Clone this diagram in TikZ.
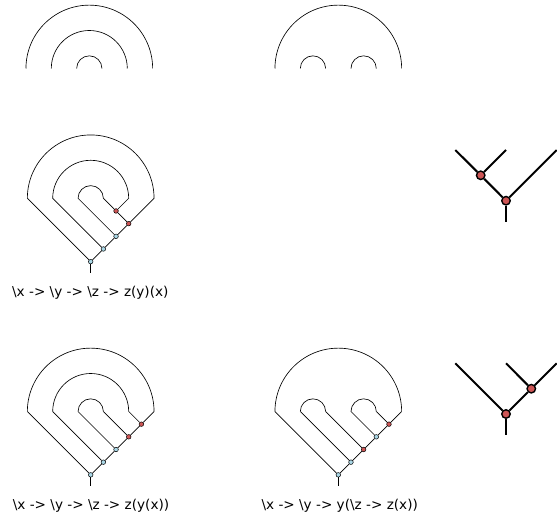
\documentclass[tikz,border=0pt]{standalone}
\usepackage{fontspec}
\setmainfont{DejaVu Sans}
\definecolor{appred}{RGB}{205,85,85}
\definecolor{lamblue}{RGB}{170,215,230}
\tikzset{
  wire/.style={line width=0.65pt, black},
  lam/.style={circle, draw=black, fill=lamblue, inner sep=0pt, minimum size=4.6pt, line width=0.5pt},
  app/.style={circle, draw=black, fill=appred, inner sep=0pt, minimum size=4.6pt, line width=0.5pt},
  treeline/.style={line width=2pt, black},
  tnode/.style={circle, draw=black, fill=appred, inner sep=0pt, minimum size=8.5pt, line width=1.4pt},
  lbl/.style={font=\fontsize{13.6}{16}\selectfont, inner sep=0pt},
  unit/.style={x=12.67pt, y=-12.67pt}
}
\begin{document}
\begin{tikzpicture}[x=1pt,y=-1pt]
\useasboundingbox (0,0) rectangle (557,518);

% ---------- top-left: nested arcs ----------
\begin{scope}[shift={(89.3,68.5)}, unit]
  \coordinate (D-o1) at (-5,0); \coordinate (D-m1) at (-3,0); \coordinate (D-i1) at (-1,0);
  \draw[wire] (D-o1) arc[start angle=180, end angle=0, radius=63.35pt];
  \draw[wire] (D-m1) arc[start angle=180, end angle=0, radius=38pt];
  \draw[wire] (D-i1) arc[start angle=180, end angle=0, radius=12.67pt];
\end{scope}

% ---------- top-middle: big arc with two small arcs ----------
\begin{scope}[shift={(338.3,68.5)}, unit]
  \coordinate (E-o1) at (-5,0); \coordinate (E-s1) at (-3,0); \coordinate (E-s2) at (1,0);
  \draw[wire] (E-o1) arc[start angle=180, end angle=0, radius=63.35pt];
  \draw[wire] (E-s1) arc[start angle=180, end angle=0, radius=12.67pt];
  \draw[wire] (E-s2) arc[start angle=180, end angle=0, radius=12.67pt];
\end{scope}

% ---------- middle-left: z(y)(x) ----------
\begin{scope}[shift={(90.7,198.3)}, unit]
  \coordinate (A-o1) at (-5,0); \coordinate (A-o2) at (5,0);
  \coordinate (A-m1) at (-3,0); \coordinate (A-m2) at (3,0);
  \coordinate (A-i1) at (-1,0); \coordinate (A-i2) at (1,0);
  \coordinate (A-bot) at (0,5.87);
  \node[lam] (A-l1) at (0,5) {};
  \node[lam] (A-l2) at (1,4) {};
  \node[lam] (A-l3) at (2,3) {};
  \node[app] (A-a1) at (3,2) {};
  \node[app] (A-a2) at (2,1) {};
  \draw[wire] (A-o1) arc[start angle=180, end angle=0, radius=63.35pt];
  \draw[wire] (A-m1) arc[start angle=180, end angle=0, radius=38pt];
  \draw[wire] (A-i1) arc[start angle=180, end angle=0, radius=12.67pt];
  \draw[wire] (A-o1) -- (A-l1);
  \draw[wire] (A-m1) -- (A-l2);
  \draw[wire] (A-i1) -- (A-l3);
  \draw[wire] (A-i2) -- (A-a2);
  \draw[wire] (A-m2) -- (A-a2);
  \draw[wire] (A-a2) -- (A-a1);
  \draw[wire] (A-o2) -- (A-a1);
  \draw[wire] (A-a1) -- (A-l3);
  \draw[wire] (A-l3) -- (A-l2);
  \draw[wire] (A-l2) -- (A-l1);
  \draw[wire] (A-l1) -- (A-bot);
\end{scope}
\node[lbl] (A-label) at (90.3,293) {\textbackslash x -> \textbackslash y -> \textbackslash z -> z(y)(x)};

% ---------- bottom-left: z(y(x)) ----------
\begin{scope}[shift={(90.7,411.5)}, unit]
  \coordinate (B-o1) at (-5,0); \coordinate (B-o2) at (5,0);
  \coordinate (B-m1) at (-3,0); \coordinate (B-m2) at (3,0);
  \coordinate (B-i1) at (-1,0); \coordinate (B-i2) at (1,0);
  \coordinate (B-bot) at (0,5.87);
  \node[lam] (B-l1) at (0,5) {};
  \node[lam] (B-l2) at (1,4) {};
  \node[lam] (B-l3) at (2,3) {};
  \node[app] (B-a1) at (3,2) {};
  \node[app] (B-a2) at (4,1) {};
  \draw[wire] (B-o1) arc[start angle=180, end angle=0, radius=63.35pt];
  \draw[wire] (B-m1) arc[start angle=180, end angle=0, radius=38pt];
  \draw[wire] (B-i1) arc[start angle=180, end angle=0, radius=12.67pt];
  \draw[wire] (B-o1) -- (B-l1);
  \draw[wire] (B-m1) -- (B-l2);
  \draw[wire] (B-i1) -- (B-l3);
  \draw[wire] (B-i2) -- (B-a1);
  \draw[wire] (B-m2) -- (B-a2);
  \draw[wire] (B-o2) -- (B-a2);
  \draw[wire] (B-a2) -- (B-a1);
  \draw[wire] (B-a1) -- (B-l3);
  \draw[wire] (B-l3) -- (B-l2);
  \draw[wire] (B-l2) -- (B-l1);
  \draw[wire] (B-l1) -- (B-bot);
\end{scope}
\node[lbl] (B-label) at (91,505.5) {\textbackslash x -> \textbackslash y -> \textbackslash z -> z(y(x))};

% ---------- bottom-middle: y(\z -> z(x)) ----------
\begin{scope}[shift={(338.3,411.5)}, unit]
  \coordinate (C-o1) at (-5,0); \coordinate (C-o2) at (5,0);
  \coordinate (C-s1) at (-3,0); \coordinate (C-s2) at (-1,0);
  \coordinate (C-s3) at (1,0); \coordinate (C-s4) at (3,0);
  \coordinate (C-bot) at (0,5.87);
  \node[lam] (C-l1) at (0,5) {};
  \node[lam] (C-l2) at (1,4) {};
  \node[app] (C-a1) at (2,3) {};
  \node[lam] (C-l3) at (3,2) {};
  \node[app] (C-a2) at (4,1) {};
  \draw[wire] (C-o1) arc[start angle=180, end angle=0, radius=63.35pt];
  \draw[wire] (C-s1) arc[start angle=180, end angle=0, radius=12.67pt];
  \draw[wire] (C-s3) arc[start angle=180, end angle=0, radius=12.67pt];
  \draw[wire] (C-o1) -- (C-l1);
  \draw[wire] (C-s1) -- (C-l2);
  \draw[wire] (C-s2) -- (C-a1);
  \draw[wire] (C-s3) -- (C-l3);
  \draw[wire] (C-s4) -- (C-a2);
  \draw[wire] (C-o2) -- (C-a2);
  \draw[wire] (C-a2) -- (C-l3);
  \draw[wire] (C-l3) -- (C-a1);
  \draw[wire] (C-a1) -- (C-l2);
  \draw[wire] (C-l2) -- (C-l1);
  \draw[wire] (C-l1) -- (C-bot);
\end{scope}
\node[lbl] (C-label) at (339.7,505.5) {\textbackslash x -> \textbackslash y -> y(\textbackslash z -> z(x))};

% ---------- top-right tree ----------
\coordinate (F-l1) at (455.3,150);
\coordinate (F-l2) at (506,150);
\coordinate (F-l3) at (556.7,150);
\coordinate (F-r) at (506,221.7);
\node[tnode] (F-a) at (480.7,175.3) {};
\node[tnode] (F-b) at (506,200.7) {};
\draw[treeline] (F-l1) -- (F-a);
\draw[treeline] (F-l2) -- (F-a);
\draw[treeline] (F-a) -- (F-b);
\draw[treeline] (F-l3) -- (F-b);
\draw[treeline] (F-b) -- (F-r);

% ---------- bottom-right tree ----------
\coordinate (G-l1) at (455.3,363.3);
\coordinate (G-l2) at (506,363.3);
\coordinate (G-l3) at (556.7,363.3);
\coordinate (G-r) at (506,435);
\node[tnode] (G-b) at (506,414) {};
\node[tnode] (G-a) at (531.3,388.7) {};
\draw[treeline] (G-l1) -- (G-b);
\draw[treeline] (G-l2) -- (G-a);
\draw[treeline] (G-l3) -- (G-a);
\draw[treeline] (G-a) -- (G-b);
\draw[treeline] (G-b) -- (G-r);
\end{tikzpicture}
\end{document}
